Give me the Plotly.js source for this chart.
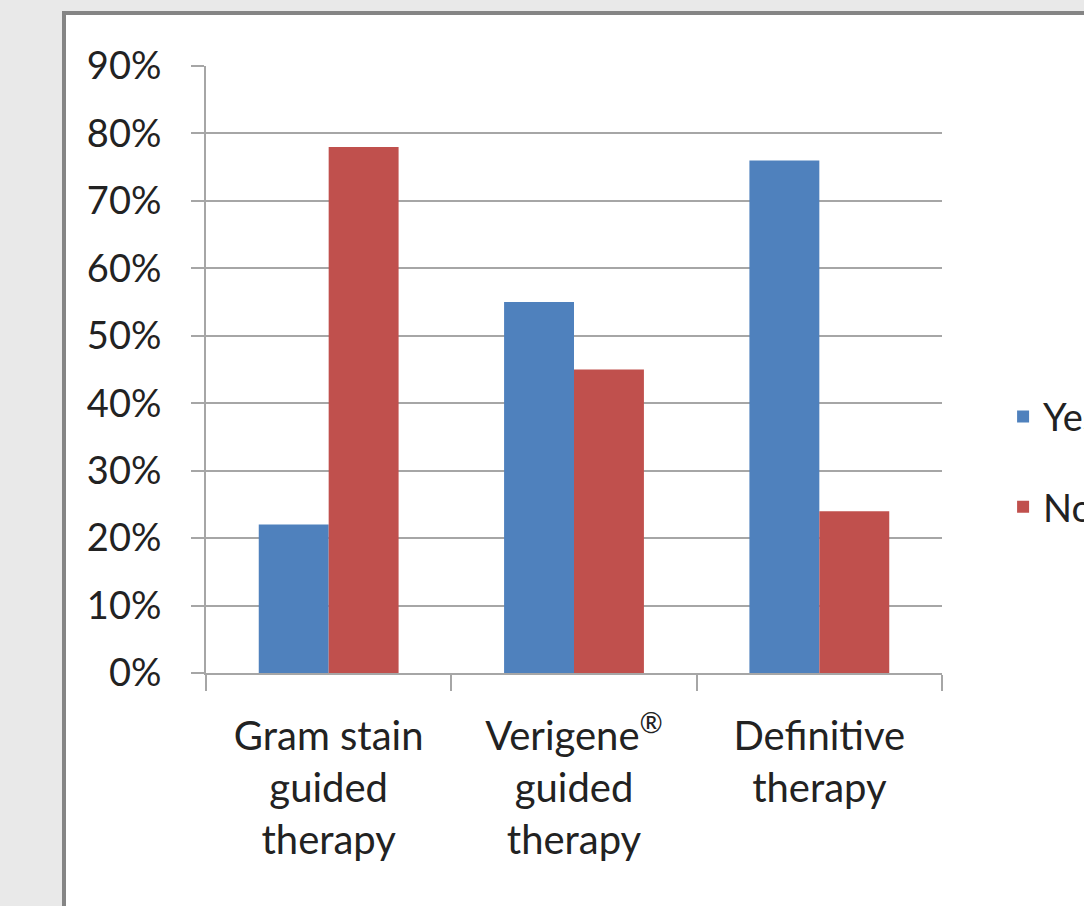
<!DOCTYPE html>
<html>
<head>
<meta charset="utf-8">
<script src="https://cdn.plot.ly/plotly-3.0.1.min.js"></script>
<style>
  html, body { margin: 0; padding: 0; width: 1084px; height: 906px; overflow: hidden; background: #e9e9e9; }
  #frame { position: absolute; left: 62px; top: 11px; width: 1150px; height: 960px;
           border-left: 4px solid #858585; border-top: 4px solid #858585; background: #fff; }
  #chart { width: 1150px; height: 960px; }
</style>
</head>
<body>
<div id="frame"><div id="chart"></div></div>
<script>
const categories = ["Gram stain<br>guided<br>therapy", "Verigene<sup>®</sup><br>guided<br>therapy", "Definitive<br>therapy"];
const seriesNames = ["Yes", "No"];
const yesValues = [0.22, 0.55, 0.76];
const noValues = [0.78, 0.45, 0.24];
const yTickVals = [0, 0.1, 0.2, 0.3, 0.4, 0.5, 0.6, 0.7, 0.8, 0.9];
const yTickText = ["0%", "10%", "20%", "30%", "40%", "50%", "60%", "70%", "80%", "90%"];

const FONT = "Lato, 'Open Sans', sans-serif";
const data = [
  { type: "bar", name: seriesNames[0], x: categories, y: yesValues,
    marker: { color: "#4f81bd" }, legendgroup: "a", hoverinfo: "none" },
  { type: "bar", name: seriesNames[1], x: categories, y: noValues,
    marker: { color: "#c0504d" }, legendgroup: "b", hoverinfo: "none" }
];
const layout = {
  width: 1150, height: 960,
  margin: { l: 140, r: 274, t: 51, b: 302 },
  paper_bgcolor: "#ffffff", plot_bgcolor: "#ffffff",
  font: { family: FONT, size: 38, color: "#222222" },
  barmode: "group", bargap: 0.43, bargroupgap: 0,
  showlegend: true,
  legend: { x: 1.083, xanchor: "left", y: 0.348, yanchor: "middle",
            traceorder: "grouped", tracegroupgap: 38,
            font: { family: FONT, size: 38, color: "#222222" }, bgcolor: "rgba(0,0,0,0)" },
  xaxis: {
    type: "category", showgrid: false, showline: true, linecolor: "#a6a6a6", linewidth: 2,
    ticks: "outside", tickson: "boundaries", ticklen: 16, tickwidth: 2, tickcolor: "#a6a6a6",
    tickfont: { family: FONT, size: 40, color: "#222222" }, ticklabelstandoff: 27, zeroline: false
  },
  yaxis: {
    range: [0, 0.9], tickvals: yTickVals, ticktext: yTickText,
    showgrid: true, gridcolor: "#a6a6a6", gridwidth: 2,
    showline: true, linecolor: "#a6a6a6", linewidth: 2,
    ticks: "outside", ticklen: 13, tickwidth: 2, tickcolor: "#a6a6a6",
    tickfont: { family: FONT, size: 38, color: "#222222" }, ticklabelstandoff: 22, zeroline: false
  }
};
Plotly.newPlot("chart", data, layout, { displayModeBar: false, staticPlot: true });
</script>
</body>
</html>
